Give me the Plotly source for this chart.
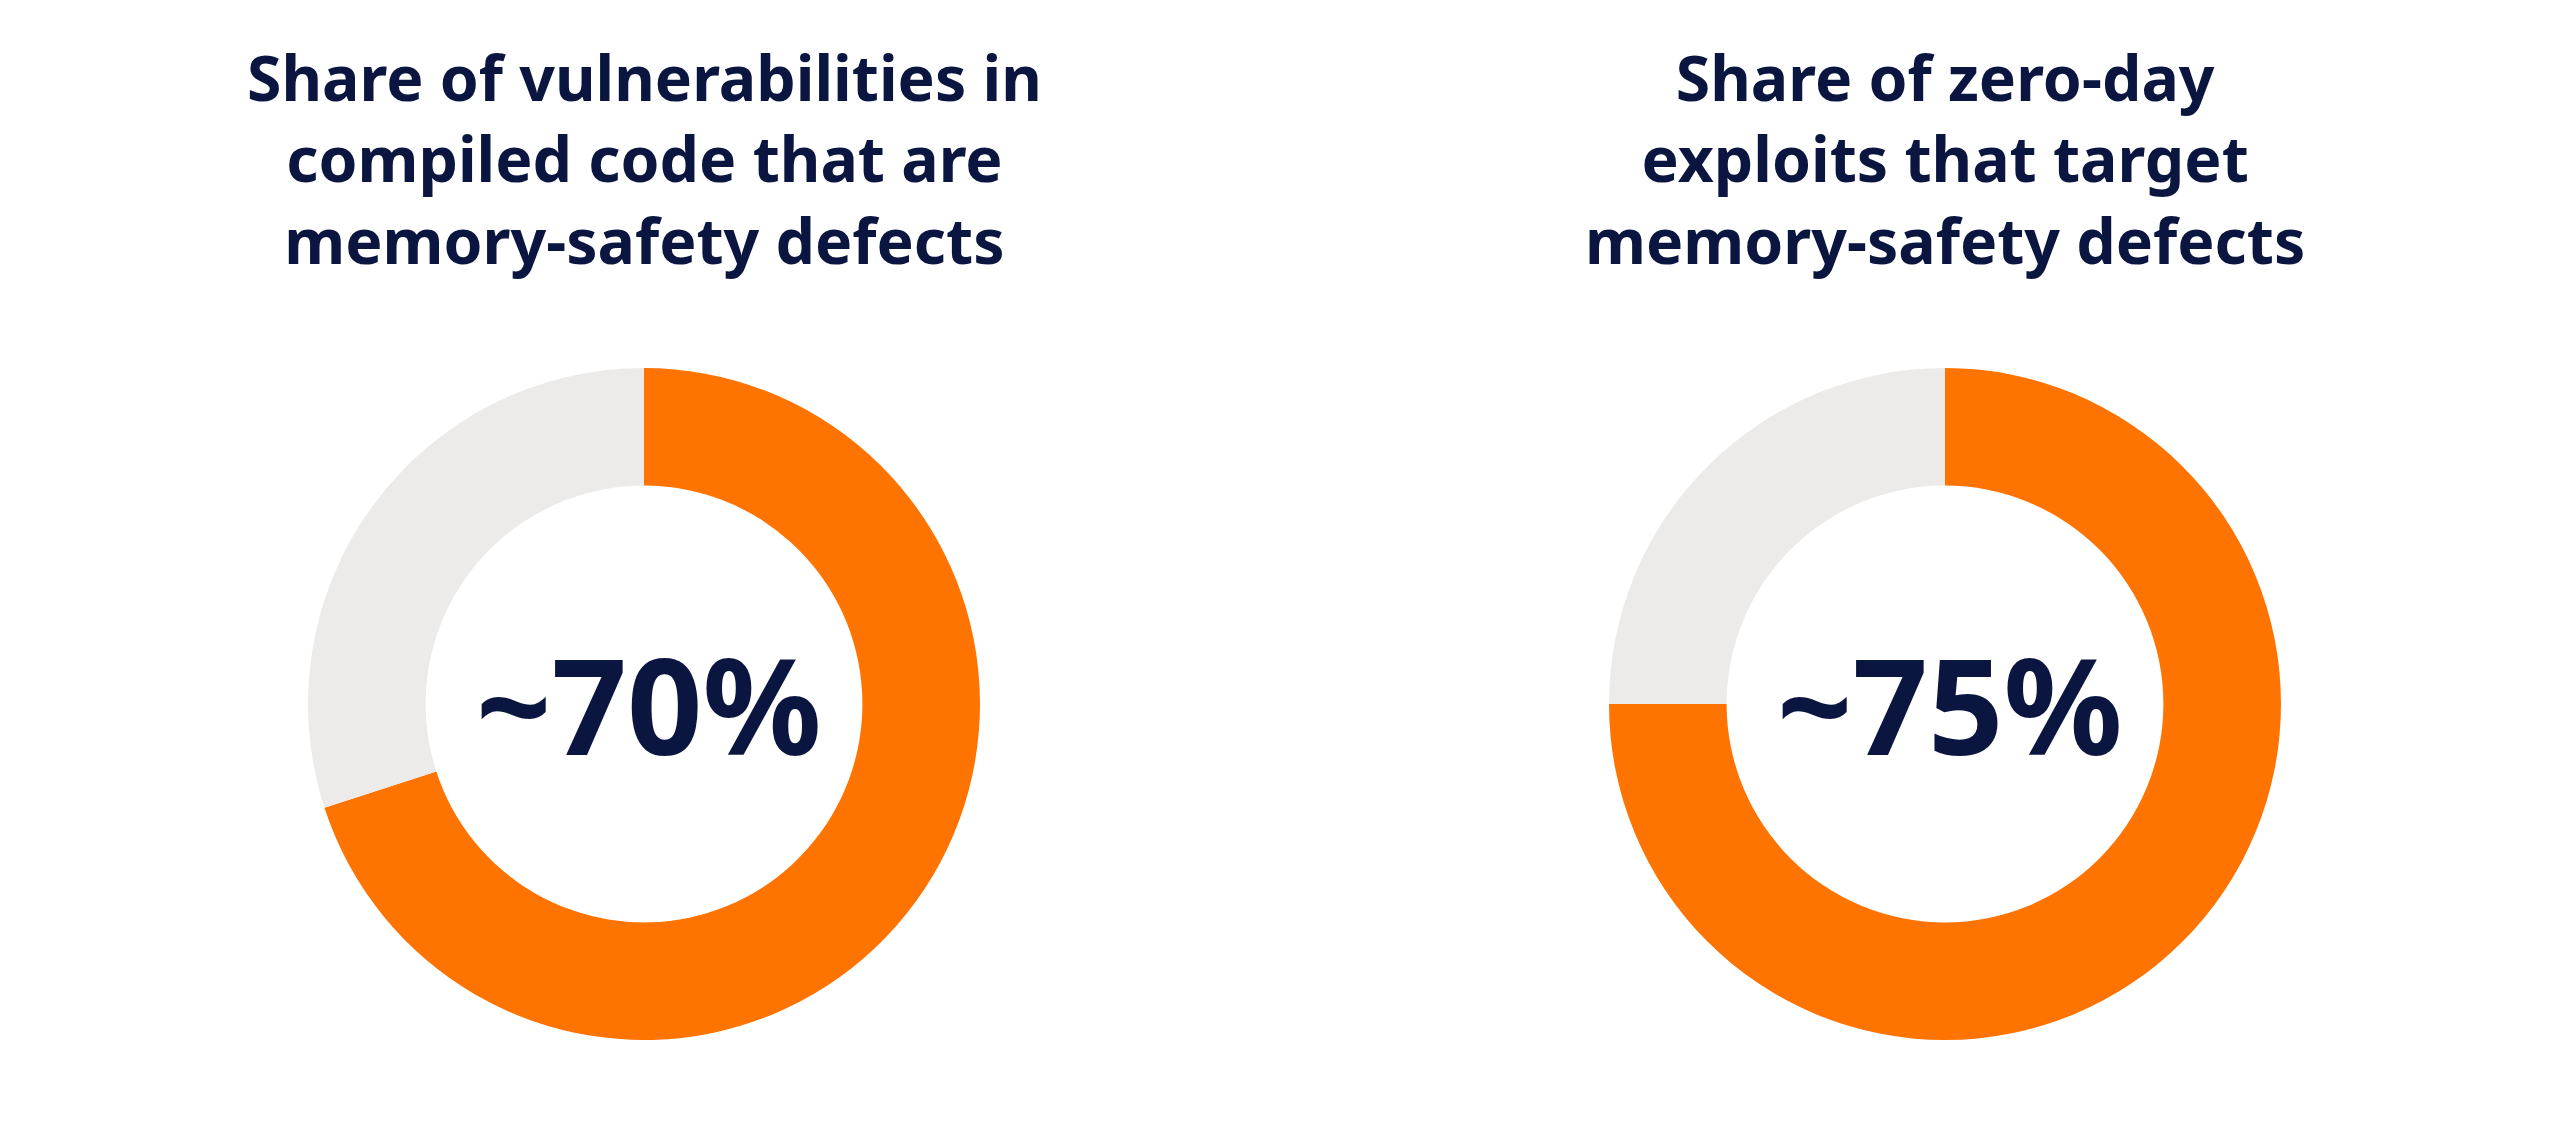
import plotly.graph_objects as go

# chart data
labels = ["Memory-safety defects", "Other"]
share_compiled = [70, 30]
share_zero_day = [75, 25]
center_labels = ["~70%", "~75%"]
titles = [
    "Share of vulnerabilities in<br>compiled code that are<br>memory-safety defects",
    "Share of zero-day<br>exploits that target<br>memory-safety defects",
]

ORANGE = "#FF7300"
GREY = "#ECEBE9"
NAVY = "#0B1640"
FONT = "Noto Sans"

W, H = 2560, 1134
# pie centres / radius in pixels
centres_x = [636, 1937]
centre_y = 696
radius = 336

fig = go.Figure()
annotations = []
for i, vals in enumerate([share_compiled, share_zero_day]):
    cx = centres_x[i]
    fig.add_trace(go.Pie(
        labels=labels, values=vals,
        hole=0.65, sort=False, direction="clockwise", rotation=0,
        marker=dict(colors=[ORANGE, GREY], line=dict(width=0)),
        textinfo="none", hoverinfo="label+percent", showlegend=False,
        domain=dict(x=[(cx - radius) / W, (cx + radius) / W],
                    y=[1 - (centre_y + radius) / H, 1 - (centre_y - radius) / H]),
    ))
    # big number in the hole
    annotations.append(dict(
        text="<b>%s</b>" % center_labels[i], x=cx / W, y=1 - centre_y / H,
        xref="paper", yref="paper", showarrow=False, xshift=5,
        xanchor="center", yanchor="middle",
        font=dict(family=FONT, size=132, color=NAVY),
    ))
    annotations.append(dict(
        text="<b>%s</b>" % titles[i], x=cx / W, y=1 - 150 / H,
        xref="paper", yref="paper", showarrow=False,
        xanchor="center", yanchor="middle", align="center",
        font=dict(family=FONT, size=62.5, color=NAVY),
    ))

fig.update_layout(
    width=W, height=H,
    margin=dict(l=0, r=0, t=0, b=0),
    paper_bgcolor="white", plot_bgcolor="white",
    annotations=annotations,
)
fig.write_html("out.html")
